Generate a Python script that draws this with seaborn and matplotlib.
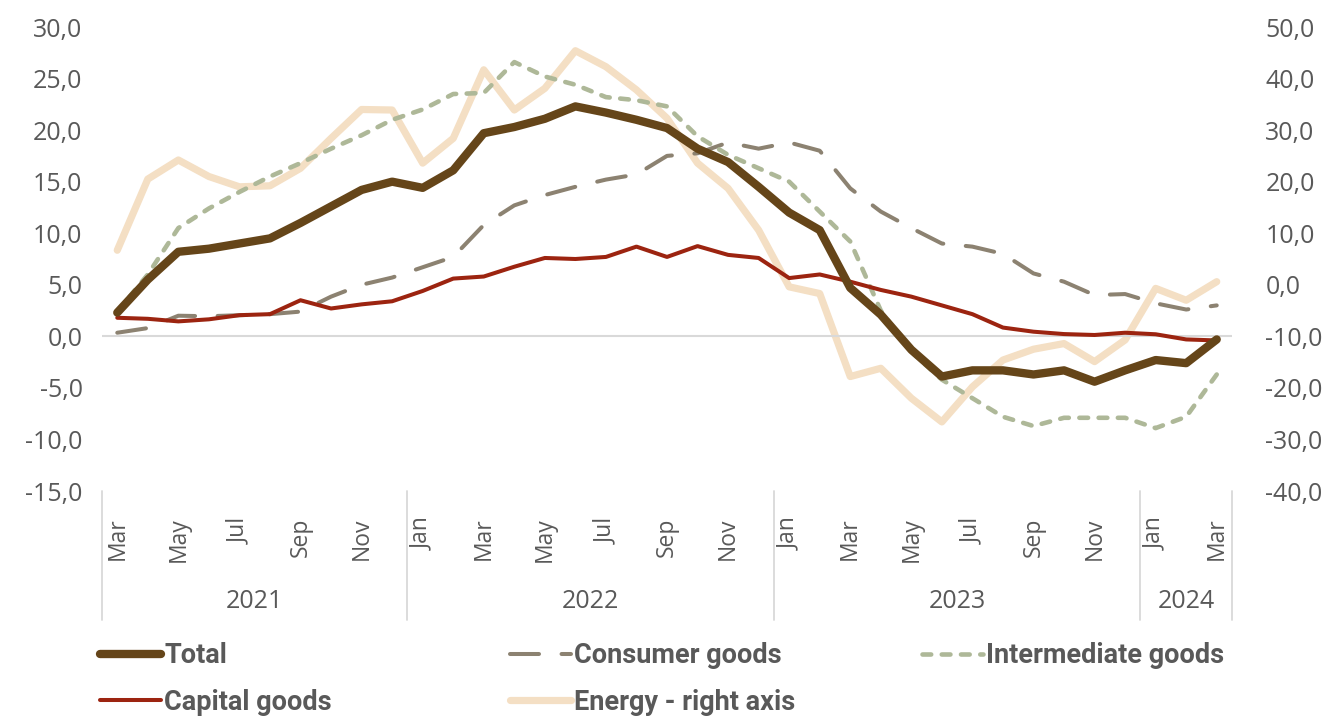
import matplotlib
matplotlib.use("Agg")
import matplotlib.pyplot as plt
import seaborn as sns
import pandas as pd
from matplotlib.ticker import FuncFormatter, MultipleLocator
from matplotlib.lines import Line2D

# months Mar 2021 .. Mar 2024
months = ["Mar", "Apr", "May", "Jun", "Jul", "Aug", "Sep", "Oct", "Nov", "Dec",
          "Jan", "Feb", "Mar", "Apr", "May", "Jun", "Jul", "Aug", "Sep", "Oct", "Nov", "Dec",
          "Jan", "Feb", "Mar", "Apr", "May", "Jun", "Jul", "Aug", "Sep", "Oct", "Nov", "Dec",
          "Jan", "Feb", "Mar"]
years = [2021] * 10 + [2022] * 12 + [2023] * 12 + [2024] * 3

total = [2.3, 5.5, 8.2, 8.5, 9.0, 9.5, 11.0, 12.6, 14.2, 15.0,
         14.4, 16.1, 19.7, 20.3, 21.1, 22.3, 21.7, 21.0, 20.2, 18.2, 16.9, 14.5,
         12.0, 10.3, 4.7, 2.1, -1.3, -3.9, -3.3, -3.3, -3.7, -3.3, -4.4, -3.3,
         -2.3, -2.6, -0.3]
consumer = [0.35, 0.8, 2.0, 1.95, 2.05, 2.15, 2.4, 3.85, 5.0, 5.7,
            6.7, 7.7, 10.8, 12.7, 13.7, 14.5, 15.2, 15.7, 17.5, 17.75, 18.8, 18.2,
            18.8, 18.0, 14.35, 12.1, 10.5, 9.0, 8.7, 8.0, 6.1, 5.3, 4.0, 4.1,
            3.2, 2.6, 3.0]
intermediate = [2.4, 6.0, 10.5, 12.4, 14.0, 15.5, 16.8, 18.2, 19.5, 21.0,
                22.0, 23.5, 23.6, 26.6, 25.2, 24.4, 23.2, 22.9, 22.3, 19.4, 17.6, 16.3,
                15.0, 12.1, 9.2, 2.5, -1.5, -4.2, -6.0, -7.8, -8.7, -7.9, -7.9, -7.9,
                -8.9, -7.8, -3.7]
capital = [1.8, 1.7, 1.45, 1.65, 2.05, 2.15, 3.5, 2.7, 3.1, 3.4,
           4.4, 5.6, 5.8, 6.75, 7.6, 7.5, 7.7, 8.7, 7.7, 8.75, 7.9, 7.6,
           5.65, 6.0, 5.3, 4.5, 3.85, 3.0, 2.15, 0.85, 0.45, 0.22, 0.13, 0.35,
           0.2, -0.3, -0.4]
energy = [6.7, 20.5, 24.2, 21.0, 19.0, 19.2, 22.6, 28.4, 34.0, 33.9,
          23.6, 28.4, 41.7, 33.9, 38.1, 45.4, 42.3, 37.8, 32.3, 23.6, 18.7, 10.6,
          -0.4, -1.7, -17.8, -16.2, -22.0, -26.6, -19.8, -14.6, -12.5, -11.4, -14.9, -10.7,
          -0.7, -3.0, 0.6]

df = pd.DataFrame({"idx": range(len(months)), "month": months, "year": years,
                   "Total": total, "Consumer goods": consumer,
                   "Intermediate goods": intermediate, "Capital goods": capital,
                   "Energy - right axis": energy})

GREY = "#595959"
c_total, c_cons, c_int, c_cap, c_en = "#654519", "#8C8271", "#AEB898", "#9C2410", "#F4DFC4"

sns.set_style("white")
plt.rcParams["font.family"] = ["Open Sans", "DejaVu Sans"]

fig = plt.figure(figsize=(13.39, 7.18), dpi=100)
ax = fig.add_axes([102 / 1339, 1 - 491 / 718, 1130 / 1339, 464 / 718])
ax2 = ax.twinx()

ax.axhline(0, color="#D9D9D9", lw=1.5, zorder=0)

sns.lineplot(data=df, x="idx", y="Energy - right axis", ax=ax2, color=c_en, lw=5.2,
             solid_capstyle="round", solid_joinstyle="round")
sns.lineplot(data=df, x="idx", y="Consumer goods", ax=ax, color=c_cons, lw=2.9,
             linestyle=(0, (7.2, 5.6)), dash_capstyle="round")
sns.lineplot(data=df, x="idx", y="Intermediate goods", ax=ax, color=c_int, lw=3.3,
             linestyle=(0, (1.9, 2.3)), dash_capstyle="round")
sns.lineplot(data=df, x="idx", y="Capital goods", ax=ax, color=c_cap, lw=2.9,
             solid_joinstyle="round")
sns.lineplot(data=df, x="idx", y="Total", ax=ax, color=c_total, lw=6.0,
             solid_capstyle="round", solid_joinstyle="round")

# energy drawn behind the left-axis series
ax.set_zorder(ax2.get_zorder() + 1)
ax.patch.set_visible(False)

n = len(months)
for a in (ax, ax2):
    a.set_xlim(-0.5, n - 0.5)
    a.set_xlabel("")
    a.set_ylabel("")
    for s in a.spines.values():
        s.set_visible(False)
    a.tick_params(length=0, labelsize=18, colors=GREY)

fmt = FuncFormatter(lambda v, p: f"{v:.1f}".replace(".", ",").replace("-0,0", "0,0"))
ax.set_ylim(-15, 30)
ax.yaxis.set_major_locator(MultipleLocator(5))
ax.yaxis.set_major_formatter(fmt)
ax.tick_params(axis="y", pad=14)
ax2.set_ylim(-40, 50)
ax2.yaxis.set_major_locator(MultipleLocator(10))
ax2.yaxis.set_major_formatter(fmt)
ax2.tick_params(axis="y", pad=24)

ticks = list(range(0, n, 2))
ax.set_xticks(ticks)
ax.set_xticklabels([months[i] for i in ticks], rotation=90, fontsize=16.5)
ax.tick_params(axis="x", pad=19)

# year groups below the month labels
trans = ax.get_xaxis_transform()
bounds = [-0.5]
for i in range(1, n):
    if years[i] != years[i - 1]:
        bounds.append(i - 0.5)
bounds.append(n - 0.5)
for b in bounds:
    ax.add_line(Line2D([b, b], [0, -129 / 464], transform=trans, color="#D9D9D9",
                       lw=1.3, clip_on=False))
for k in range(len(bounds) - 1):
    yr = years[int(bounds[k] + 0.5)]
    ax.text((bounds[k] + bounds[k + 1]) / 2, -110 / 464, str(yr), transform=trans,
            ha="center", va="center", fontsize=18, color=GREY)

# legend laid out like the original three columns
handles = {
    "Total": Line2D([], [], color=c_total, lw=6.0, solid_capstyle="round"),
    "Consumer goods": Line2D([], [], color=c_cons, lw=2.9, linestyle=(0, (7.2, 5.6)),
                             dash_capstyle="round"),
    "Intermediate goods": Line2D([], [], color=c_int, lw=3.3, linestyle=(0, (1.9, 2.3)),
                                 dash_capstyle="round"),
    "Capital goods": Line2D([], [], color=c_cap, lw=2.9),
    "Energy - right axis": Line2D([], [], color=c_en, lw=5.2, solid_capstyle="round"),
}
columns = [(100, ["Total", "Capital goods"]),
           (510, ["Consumer goods", "Energy - right axis"]),
           (922, ["Intermediate goods"])]
for x0, labels in columns:
    leg = fig.legend([handles[l] for l in labels], labels, loc="upper left",
                     bbox_to_anchor=(x0 / 1339, 1 - 642 / 718), frameon=False,
                     borderpad=0, borderaxespad=0, handlelength=2.25, handletextpad=0.12,
                     labelspacing=0.72, prop={"family": "Roboto", "weight": "bold", "size": 19.5})
    for t in leg.get_texts():
        t.set_color(GREY)

fig.savefig("out.png", dpi=100)
